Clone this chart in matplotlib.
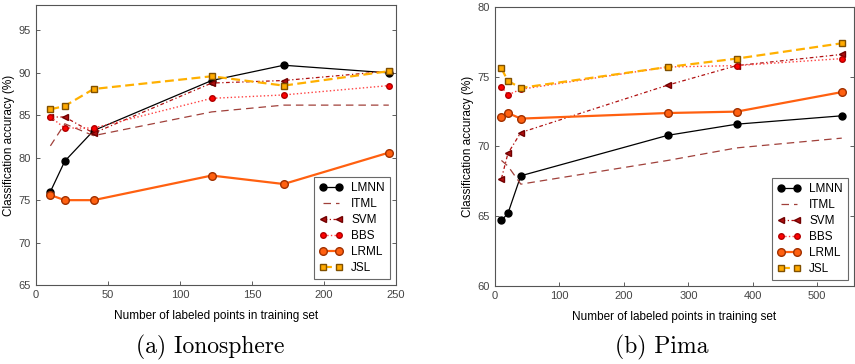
import matplotlib
matplotlib.use('Agg')
import matplotlib.pyplot as plt
from matplotlib import font_manager

# Ionosphere data
iono_x = [10, 20, 40, 122, 172, 245]
iono_lmnn = [76.0, 79.6, 83.2, 89.1, 90.9, 90.0]
iono_itml = [81.4, 84.0, 82.6, 85.4, 86.2, 86.2]
iono_svm = [84.8, 84.8, 82.9, 88.8, 89.1, 90.2]
iono_bbs = [84.8, 83.5, 83.5, 87.0, 87.4, 88.5]
iono_lrml = [75.6, 75.0, 75.0, 77.9, 76.9, 80.6]
iono_jsl = [85.7, 86.1, 88.1, 89.6, 88.5, 90.2]

# Pima data
pima_x = [10, 20, 40, 268, 375, 538]
pima_lmnn = [64.7, 65.2, 67.9, 70.8, 71.6, 72.2]
pima_itml = [69.0, 68.6, 67.3, 69.0, 69.9, 70.6]
pima_svm = [67.7, 69.5, 71.0, 74.4, 75.8, 76.6]
pima_bbs = [74.3, 73.7, 74.1, 75.7, 75.8, 76.3]
pima_lrml = [72.1, 72.4, 72.0, 72.4, 72.5, 73.9]
pima_jsl = [75.6, 74.7, 74.2, 75.7, 76.3, 77.4]

names = ['LMNN', 'ITML', 'SVM', 'BBS', 'LRML', 'JSL']

styles = {
    'LMNN': dict(color='black', ls='-', lw=0.9, marker='o', ms=5, mfc='black', mec='black'),
    'ITML': dict(color='#a0403a', ls=(0, (6, 4)), lw=0.9, marker=None),
    'SVM': dict(color='#b01010', ls=(0, (3, 2, 1, 2)), lw=0.9, marker='<', ms=5, mfc='#b01010', mec='#700000'),
    'BBS': dict(color='#ff4040', ls=':', lw=1.0, marker='o', ms=4, mfc='red', mec='#b00000'),
    'LRML': dict(color='#ff6010', ls='-', lw=1.6, marker='o', ms=5.5, mfc='#ff6010', mec='#a03000'),
    'JSL': dict(color='#ffb000', ls=(0, (4, 2)), lw=1.6, marker='s', ms=5, mfc='#ffaa00', mec='#805000'),
}

avail = {f.name for f in font_manager.fontManager.ttflist}
sans = 'Liberation Sans Narrow' if 'Liberation Sans Narrow' in avail else 'Liberation Sans'
plt.rcParams['font.family'] = sans
plt.rcParams['xtick.direction'] = 'in'
plt.rcParams['ytick.direction'] = 'in'

fig = plt.figure(figsize=(8.55, 3.64), dpi=100)
W, H = 855, 364
ax1 = fig.add_axes([36 / W, 1 - 285 / H, 360 / W, 280 / H])
ax2 = fig.add_axes([495 / W, 1 - 286 / H, 359 / W, 279 / H])

panels = [
    (ax1, iono_x, [iono_lmnn, iono_itml, iono_svm, iono_bbs, iono_lrml, iono_jsl],
     (0, 250), (65, 98), [0, 50, 100, 150, 200, 250], [65, 70, 75, 80, 85, 90, 95]),
    (ax2, pima_x, [pima_lmnn, pima_itml, pima_svm, pima_bbs, pima_lrml, pima_jsl],
     (0, 557), (60, 80), [0, 100, 200, 300, 400, 500], [60, 65, 70, 75, 80]),
]

for ax, xs, series, xlim, ylim, xt, yt in panels:
    for name, ys in zip(names, series):
        ax.plot(xs, ys, label=name, **styles[name])
    ax.set_xlim(*xlim)
    ax.set_ylim(*ylim)
    ax.set_xticks(xt)
    ax.set_yticks(yt)
    ax.tick_params(labelsize=8, length=3, width=0.6, colors='#444444',
                   left=True, right=True, top=False, bottom=True)
    for s in ax.spines.values():
        s.set_color('#555555')
        s.set_linewidth(0.8)
    ax.set_xlabel('Number of labeled points in training set', fontsize=8.5, labelpad=7)
    ax.set_ylabel('Classification accuracy (%)', fontsize=8.5, labelpad=3)
    leg = ax.legend(loc='lower right', fontsize=8.5, frameon=True, fancybox=False,
                    numpoints=2, handlelength=2.0, borderaxespad=0.5, labelspacing=0.33,
                    handletextpad=0.7, borderpad=0.45)
    leg.get_frame().set_edgecolor('#444444')
    leg.get_frame().set_linewidth(0.8)

fig.text(210 / W, 1 - 347 / H, '(a) Ionosphere', family='cmr10', fontsize=17,
         ha='center', va='center')
fig.text(662 / W, 1 - 347 / H, '(b) Pima', family='cmr10', fontsize=17,
         ha='center', va='center')

fig.savefig('out.png', dpi=100)
